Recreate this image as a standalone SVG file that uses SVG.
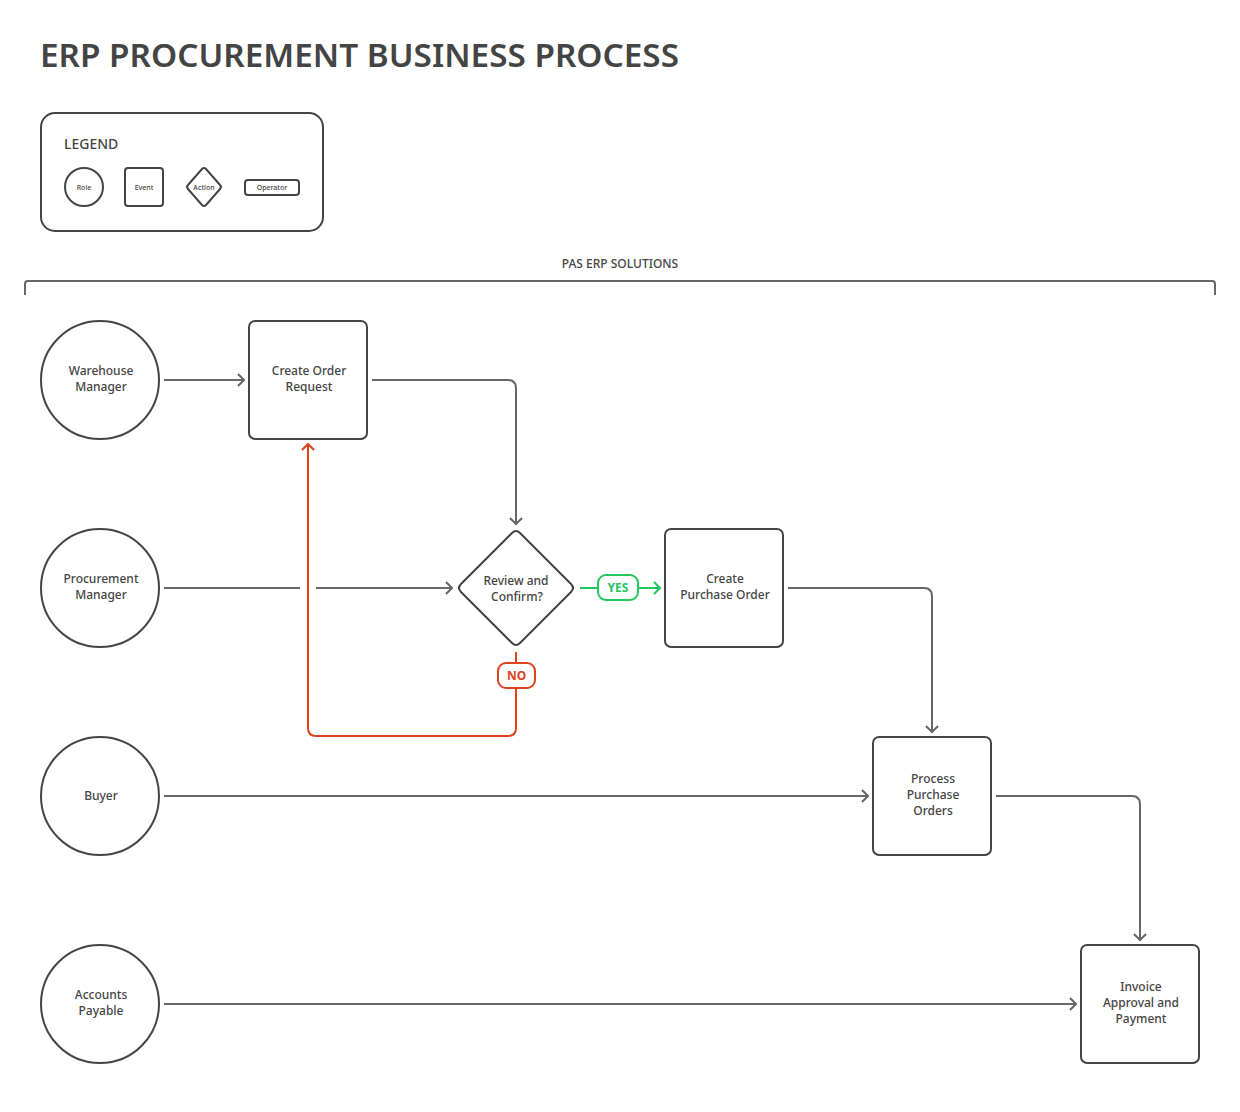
<svg xmlns="http://www.w3.org/2000/svg" width="1240" height="1112" viewBox="0 0 1240 1112">
<defs>
<style>
.t{font-family:"Noto Sans","Open Sans",sans-serif;fill:#444;}
.node{fill:#fff;stroke:#444;stroke-width:2;}
.lbl{font-family:"Noto Sans","Open Sans",sans-serif;font-size:12px;font-weight:500;fill:#444;text-anchor:middle;}
.conn{fill:none;stroke:#666;stroke-width:2;}
.yes{fill:none;stroke:#22c55e;stroke-width:2;}
.no{fill:none;stroke:#e0421c;stroke-width:2;}
</style>
<marker id="ag" markerUnits="userSpaceOnUse" viewBox="0 0 12 14" refX="10" refY="7" markerWidth="12" markerHeight="14" orient="auto">
<path d="M4,1 L10,7 L4,13" fill="none" stroke="#666" stroke-width="2"/>
</marker>
<marker id="agreen" markerUnits="userSpaceOnUse" viewBox="0 0 12 14" refX="10" refY="7" markerWidth="12" markerHeight="14" orient="auto">
<path d="M4,1 L10,7 L4,13" fill="none" stroke="#22c55e" stroke-width="2"/>
</marker>
<marker id="ared" markerUnits="userSpaceOnUse" viewBox="0 0 12 14" refX="10" refY="7" markerWidth="12" markerHeight="14" orient="auto">
<path d="M4,1 L10,7 L4,13" fill="none" stroke="#e0421c" stroke-width="2"/>
</marker>
</defs>
<rect width="1240" height="1112" fill="#fff"/>
<text class="t" x="40" y="67" font-size="32" font-weight="600" textLength="639" lengthAdjust="spacingAndGlyphs">ERP PROCUREMENT BUSINESS PROCESS</text>

<g id="legend">
<rect x="41" y="113" width="282" height="118" rx="14" fill="#fff" stroke="#444" stroke-width="2"/>
<text class="t" x="64" y="149" font-size="14" font-weight="500">LEGEND</text>
<circle cx="84" cy="187" r="19" fill="#fff" stroke="#444" stroke-width="2"/>
<text class="lbl" x="84" y="190" style="font-size:7px">Role</text>
<rect x="125" y="168" width="38" height="38" rx="3" fill="#fff" stroke="#444" stroke-width="2"/>
<text class="lbl" x="144" y="190" style="font-size:7px">Event</text>
<path d="M202,169 Q204,167 206,169 L220,185 Q222,187 220,189 L206,205 Q204,207 202,205 L188,189 Q186,187 188,185 Z" fill="#fff" stroke="#444" stroke-width="2"/>
<text class="lbl" x="204" y="190" style="font-size:7px">Action</text>
<rect x="245" y="180" width="54" height="15" rx="3" fill="#fff" stroke="#444" stroke-width="2"/>
<text class="lbl" x="272" y="190" style="font-size:7px">Operator</text>
</g>

<g id="pool">
<text class="lbl" x="620" y="268" style="font-size:12px">PAS ERP SOLUTIONS</text>
<path d="M25,295 L25,284 Q25,281 28,281 L1212,281 Q1215,281 1215,284 L1215,295" fill="none" stroke="#666" stroke-width="2"/>
</g>

<g id="connectors">
<path class="conn" d="M164,380 L244,380" marker-end="url(#ag)"/>
<path class="conn" d="M372,380 L508,380 Q516,380 516,388 L516,524" marker-end="url(#ag)"/>
<path class="conn" d="M164,588 L300,588"/>
<path class="conn" d="M316,588 L452,588" marker-end="url(#ag)"/>
<path class="yes" d="M580,588 L598,588"/>
<path class="yes" d="M638,588 L660,588" marker-end="url(#agreen)"/>
<path class="no" d="M516,652 L516,663"/>
<path class="no" d="M516,688 L516,728 Q516,736 508,736 L316,736 Q308,736 308,728 L308,444" marker-end="url(#ared)"/>
<path class="conn" d="M788,588 L924,588 Q932,588 932,596 L932,732" marker-end="url(#ag)"/>
<path class="conn" d="M164,796 L868,796" marker-end="url(#ag)"/>
<path class="conn" d="M996,796 L1132,796 Q1140,796 1140,804 L1140,940" marker-end="url(#ag)"/>
<path class="conn" d="M164,1004 L1076,1004" marker-end="url(#ag)"/>
<g id="yes-badge">
<rect x="598" y="575" width="40" height="25" rx="8" fill="#fff" stroke="#22c55e" stroke-width="2"/>
<text x="618" y="592" text-anchor="middle" font-family="Noto Sans, sans-serif" font-size="12" font-weight="700" fill="#22c55e">YES</text>
</g>
<g id="no-badge">
<rect x="498" y="663" width="37" height="25" rx="8" fill="#fff" stroke="#e0421c" stroke-width="2"/>
<text x="516.5" y="680" text-anchor="middle" font-family="Noto Sans, sans-serif" font-size="12" font-weight="700" fill="#e0421c">NO</text>
</g>
</g>

<g id="warehouse-manager">
<circle class="node" cx="100" cy="380" r="59"/>
<text class="lbl" x="101" y="375">Warehouse</text>
<text class="lbl" x="101" y="391">Manager</text>
</g>
<g id="procurement-manager">
<circle class="node" cx="100" cy="588" r="59"/>
<text class="lbl" x="101" y="583">Procurement</text>
<text class="lbl" x="101" y="599">Manager</text>
</g>
<g id="buyer">
<circle class="node" cx="100" cy="796" r="59"/>
<text class="lbl" x="101" y="800">Buyer</text>
</g>
<g id="accounts-payable">
<circle class="node" cx="100" cy="1004" r="59"/>
<text class="lbl" x="101" y="999">Accounts</text>
<text class="lbl" x="101" y="1015">Payable</text>
</g>

<g id="create-order-request">
<rect class="node" x="249" y="321" width="118" height="118" rx="6"/>
<text class="lbl" x="309" y="375">Create Order</text>
<text class="lbl" x="309" y="391">Request</text>
</g>
<g id="review-confirm">
<path class="node" d="M512,533 Q516,529 520,533 L571,584 Q575,588 571,592 L520,643 Q516,647 512,643 L461,592 Q457,588 461,584 Z"/>
<text class="lbl" x="516" y="585">Review and</text>
<text class="lbl" x="517" y="601">Confirm?</text>
</g>
<g id="create-purchase-order">
<rect class="node" x="665" y="529" width="118" height="118" rx="6"/>
<text class="lbl" x="725" y="583">Create</text>
<text class="lbl" x="725" y="599">Purchase Order</text>
</g>
<g id="process-purchase-orders">
<rect class="node" x="873" y="737" width="118" height="118" rx="6"/>
<text class="lbl" x="933" y="783">Process</text>
<text class="lbl" x="933" y="799">Purchase</text>
<text class="lbl" x="933" y="815">Orders</text>
</g>
<g id="invoice-approval-payment">
<rect class="node" x="1081" y="945" width="118" height="118" rx="6"/>
<text class="lbl" x="1141" y="991">Invoice</text>
<text class="lbl" x="1141" y="1007">Approval and</text>
<text class="lbl" x="1141" y="1023">Payment</text>
</g>
</svg>
